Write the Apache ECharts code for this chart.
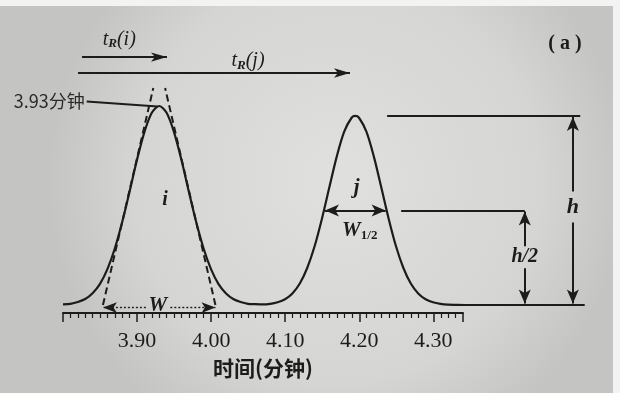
<!DOCTYPE html>
<html><head><meta charset="utf-8">
<script src="https://cdn.jsdelivr.net/npm/echarts@6/dist/echarts.min.js"></script>
<style>html,body{margin:0;padding:0;background:#f2f2f2}#c{width:620px;height:393px}</style>
</head><body><div id="c"></div>
<script>
// time (min) and detector signal
const times = [3.80,3.81,3.82,3.83,3.84,3.85,3.86,3.87,3.88,3.89,3.90,3.91,3.92,3.93,3.94,3.95,3.96,3.97,3.98,3.99,
  4.00,4.01,4.02,4.03,4.04,4.05,4.06,4.07,4.08,4.09,4.10,4.11,4.12,4.13,4.14,4.15,4.16,4.17,4.18,4.19,4.195,4.20,
  4.21,4.22,4.23,4.24,4.25,4.26,4.27,4.28,4.29,4.30,4.31,4.32,4.33,4.35,4.505];
const signal = [0.3,0.6,1.5,3.0,5.9,10.6,18.0,28.4,41.7,57.1,73.0,86.9,96.6,100,96.6,86.9,73.0,57.1,41.7,28.4,
  18.0,10.6,5.9,3.0,1.5,0.6,0.4,0.3,0.6,1.4,2.9,5.8,10.8,18.6,29.5,43.5,59.3,74.7,87.1,94.1,95,94.1,
  87.1,74.7,59.3,43.5,29.5,18.6,10.8,5.8,2.9,1.4,0.6,0.2,0.1,0,0];
const tickLabels = ['3.90','4.00','4.10','4.20','4.30'];
const peakI = {t: 3.93, h: 100, label: '3.93分钟'};
const peakJ = {t: 4.195, h: 95};
const axisName = '时间(分钟)';

const INK = '#1c1c1c';
const serif = '"Liberation Serif", "DejaVu Serif", serif';
const half = peakJ.h / 2;

function txt(coord, formatter, rich, extra) {
  return {
    coord, symbol: 'circle', symbolSize: 0,
    label: Object.assign({show: true, position: 'inside', formatter, color: INK, fontFamily: serif, rich: rich || {}}, extra || {})
  };
}
const arrowEnd = (coord, size) => ({coord, symbol: 'arrow', symbolSize: size || [9, 14]});
const plainEnd = (coord) => ({coord, symbol: 'none'});

const lineData = [
  // t_R arrows
  [plainEnd([3.8257, 124.6]), arrowEnd([3.9405, 124.6], [7, 16])],
  [plainEnd([3.8203, 116.6]), arrowEnd([4.1878, 116.6], [7, 16])],
  // leader to apex of peak i
  [plainEnd([3.832, 102.3]), plainEnd([peakI.t - 0.002, peakI.h - 0.3])],
  // h reference line and dimension (split around the label)
  [plainEnd([4.238, peakJ.h]), plainEnd([4.499, peakJ.h])],
  [plainEnd([4.489, 57]), arrowEnd([4.489, peakJ.h - 0.5])],
  [plainEnd([4.489, 41.5]), arrowEnd([4.489, 0.8])],
  // h/2 reference line and dimension
  [plainEnd([4.257, half]), plainEnd([4.424, half])],
  [plainEnd([4.424, 29.5]), arrowEnd([4.424, half - 0.5])],
  [plainEnd([4.424, 18.5]), arrowEnd([4.424, 0.8])],
  // W1/2
  [arrowEnd([4.154, half]), arrowEnd([4.236, half])]
];
const dashedData = [
  [plainEnd([3.854, 0]), plainEnd([3.922, 109])],
  [plainEnd([4.006, 0]), plainEnd([3.938, 109])]
];
const dottedData = [
  [plainEnd([3.912, -1.3]), arrowEnd([3.854, -1.3], [8, 14])],
  [plainEnd([3.945, -1.3]), arrowEnd([4.006, -1.3], [8, 14])]
];

const sub = {t: {fontFamily: serif, fontStyle: 'italic', fontSize: 20, color: INK, lineHeight: 22},
             s: {fontFamily: serif, fontStyle: 'italic', fontWeight: 'bold', fontSize: 13, color: INK, lineHeight: 22, padding: [9, 0, 0, 0]}};

const chart = echarts.init(document.getElementById('c'), null, {renderer: 'canvas'});
chart.setOption({
  animation: false,
  backgroundColor: '#f3f3f3',
  graphic: [
    {type: 'rect', z: -100, silent: true, shape: {x: 0, y: 6, width: 613, height: 387},
     style: {fill: new echarts.graphic.RadialGradient(0.55, 0.45, 0.75, [
       {offset: 0, color: '#e0e0de'}, {offset: 0.7, color: '#d5d5d3'}, {offset: 1, color: '#c4c4c2'}])}},
    {type: 'text', x: 565, y: 44, z: 10, style: {text: '( a )', font: 'bold 20px ' + serif, fill: INK, textAlign: 'center', textVerticalAlign: 'middle'}}
  ],
  grid: [
    {left: 63, top: 200, width: 400, bottom: 80},
    {left: 63, top: 6.5, width: 522, bottom: 78.05}
  ],
  xAxis: [
    {gridIndex: 0, type: 'value', min: 3.8, max: 4.34, interval: 0.1,
     axisLine: {lineStyle: {color: INK, width: 2}},
     axisTick: {show: true, length: 9, lineStyle: {color: INK, width: 1.5}},
     minorTick: {show: true, splitNumber: 10, length: 5, lineStyle: {color: INK, width: 1.2}},
     splitLine: {show: false},
     axisLabel: {margin: 17, color: INK, fontFamily: serif, fontSize: 22, showMaxLabel: false,
       formatter: v => { const s = v.toFixed(2); return tickLabels.includes(s) ? s : ''; }},
     name: axisName, nameLocation: 'middle', nameGap: 45,
     nameTextStyle: {fontFamily: '"Noto Sans CJK SC", sans-serif', fontSize: 21, fontWeight: 'bold', color: INK}},
    {gridIndex: 1, type: 'value', min: 3.8, max: 3.8 + 522 / 740, show: false}
  ],
  yAxis: [
    {gridIndex: 0, type: 'value', show: false},
    {gridIndex: 1, type: 'value', min: -5, max: 150, show: false}
  ],
  series: [
    {type: 'line', xAxisIndex: 1, yAxisIndex: 1, data: times.map((t, i) => [t, signal[i]]),
     showSymbol: false, smooth: 0.3, silent: true,
     lineStyle: {color: INK, width: 2.2},
     markLine: {silent: true, animation: false, symbol: 'none', label: {show: false},
       lineStyle: {color: INK, width: 2, type: 'solid'}, emphasis: {disabled: true}, data: lineData},
     markPoint: {silent: true, animation: false, data: [
       txt([3.832, 102.3], peakI.label, null, {position: 'left', distance: 2, fontFamily: '"Noto Sans CJK SC", sans-serif', fontSize: 18, color: '#2a2a2a'}),
       txt([3.938, 53], 'i', null, {fontStyle: 'italic', fontWeight: 'bold', fontSize: 20}),
       txt([4.197, 59], 'j', null, {fontStyle: 'italic', fontWeight: 'bold', fontSize: 21}),
       txt([4.201, 37.5], '{w|W}{s|1/2}', {w: {fontFamily: serif, fontStyle: 'italic', fontWeight: 'bold', fontSize: 21, color: INK, lineHeight: 24},
         s: {fontFamily: serif, fontWeight: 'bold', fontSize: 13, color: INK, lineHeight: 24, padding: [10, 0, 0, 0]}}),
       txt([4.489, 49], 'h', null, {fontStyle: 'italic', fontWeight: 'bold', fontSize: 22}),
       txt([4.424, 24], 'h/2', null, {fontStyle: 'italic', fontWeight: 'bold', fontSize: 20}),
       txt([3.928, -0.5], 'W', null, {fontStyle: 'italic', fontWeight: 'bold', fontSize: 21}),
       txt([3.876, 133.5], '{t|t}{s|R}{t|(i)}', sub),
       txt([4.05, 122.5], '{t|t}{s|R}{t|(j)}', sub)
     ]}},
    {type: 'line', xAxisIndex: 1, yAxisIndex: 1, data: [], silent: true,
     markLine: {silent: true, animation: false, symbol: 'none', label: {show: false},
       lineStyle: {color: INK, width: 2, type: [7, 4]}, data: dashedData}},
    {type: 'line', xAxisIndex: 1, yAxisIndex: 1, data: [], silent: true,
     markLine: {silent: true, animation: false, symbol: 'none', label: {show: false},
       lineStyle: {color: INK, width: 1.4, type: [2, 2]}, data: dottedData}},
    {type: 'line', xAxisIndex: 0, yAxisIndex: 0, data: [], silent: true}
  ]
});
</script></body></html>
